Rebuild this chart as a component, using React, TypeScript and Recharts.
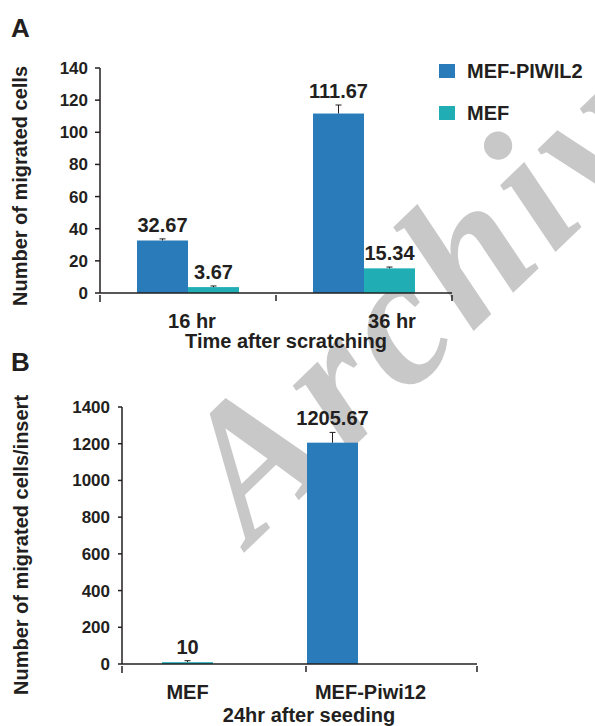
import React from "react";
import { BarChart, Bar, XAxis, YAxis, Cell, Legend } from "recharts";

const FONT = '"Liberation Sans", Arial, Helvetica, sans-serif';
const INK = "#231f20";
const BLUE = "#2a7bb9";
const TEAL = "#20aeb4";

// Panel A: scratch (wound healing) assay
const scratchSeries = ["MEF-PIWIL2", "MEF"];
const scratchTimes = ["16 hr", "36 hr"];
const piwil2Counts = [32.67, 111.67];
const piwil2Errors = [1.0, 5.3];
const mefCounts = [3.67, 15.34];
const mefErrors = [0.7, 0.8];
const scratchTicks = [0, 20, 40, 60, 80, 100, 120, 140];

// Panel B: transwell insert
const insertGroups = ["MEF", "MEF-Piwi12"];
const insertCounts = [10, 1205.67];
const insertErrors = [8, 56];
const insertTicks = [0, 200, 400, 600, 800, 1000, 1200, 1400];
const insertColors = [TEAL, BLUE];

const scratchData = scratchTimes.map((time, i) => ({
  time,
  piwil2: piwil2Counts[i],
  piwil2Err: piwil2Errors[i],
  mef: mefCounts[i],
  mefErr: mefErrors[i],
}));

const insertData = insertGroups.map((group, i) => ({
  group,
  cells: insertCounts[i],
  err: insertErrors[i],
}));

// plot frames (px inside each chart svg)
const A = { w: 595, h: 360, left: 100, right: 452, top: 68, bottom: 293 };
const B = { w: 595, h: 366, left: 122, right: 477, top: 47, bottom: 304 };
const BAR = 51;

const bold = { fontFamily: FONT, fontWeight: 700, fill: INK } as const;

// bar rect + one-sided error bar + value label on top
const barWithError = (valueKey: string, errKey: string) => (props: any) => {
  const { x, y, width, height, fill, payload } = props;
  const v = payload[valueKey];
  const err = payload[errKey] ?? 0;
  const k = v ? height / v : 0;
  const capY = y - err * k;
  const cx = x + width / 2;
  return (
    <g>
      <rect x={x} y={y} width={width} height={height} fill={fill} />
      <line x1={cx} x2={cx} y1={y} y2={capY} stroke={INK} strokeWidth={1} />
      <line x1={cx - 3} x2={cx + 3} y1={capY} y2={capY} stroke={INK} strokeWidth={1} />
      <text x={cx} y={capY - 7} textAnchor="middle" fontSize={20} {...bold}>
        {v}
      </text>
    </g>
  );
};

// Excel-style category axis: marks between categories, labels under them
const categoryTick =
  (left: number, right: number, divider: (x: number) => number, nudge: number[], count: number) =>
  (props: any) => {
    const { x, y, payload, index } = props;
    return (
      <g>
        {index === 0 && <line x1={left} x2={left} y1={y} y2={y + 7} stroke={INK} strokeWidth={1.5} />}
        {index === 0 && (
          <line x1={divider(x)} x2={divider(x)} y1={y} y2={y + 6} stroke={INK} strokeWidth={1.5} />
        )}
        {index === count - 1 && <line x1={right} x2={right} y1={y} y2={y + 6} stroke={INK} strokeWidth={1.5} />}
        <text x={x + (nudge[index] ?? 0)} y={y + 33} textAnchor="middle" fontSize={20} {...bold}>
          {payload.value}
        </text>
      </g>
    );
  };

const yTitle = (text: string, x: number, cy: number) => () =>
  (
    <text transform={`translate(${x} ${cy}) rotate(-90)`} textAnchor="middle" fontSize={20} {...bold}>
      {text}
    </text>
  );

const xTitle = (text: string, cx: number, y: number) => () =>
  (
    <text x={cx} y={y} textAnchor="middle" fontSize={20} {...bold}>
      {text}
    </text>
  );

const renderLegend = (props: any) => {
  const items = [...(props.payload || [])].sort(
    (a: any, b: any) => scratchSeries.indexOf(a.value) - scratchSeries.indexOf(b.value)
  );
  return (
    <div>
      {items.map((it: any) => (
        <div key={it.value} style={{ display: "flex", alignItems: "center", height: 22, marginBottom: 20 }}>
          <span style={{ width: 16, height: 14, background: it.color, marginRight: 12 }} />
          <span style={{ fontFamily: FONT, fontWeight: 700, fontSize: 20, color: INK, lineHeight: "22px" }}>
            {it.value}
          </span>
        </div>
      ))}
    </div>
  );
};

const panelLetter = (top: number) => ({
  position: "absolute" as const,
  left: 11,
  top,
  fontFamily: FONT,
  fontWeight: 700,
  fontSize: 26,
  lineHeight: "26px",
  color: INK,
});

const yTickStyle = { fill: INK, fontSize: 17, fontWeight: 700, fontFamily: FONT };

export default function App() {
  const bandA = (A.right - A.left) / 2;
  const bandB = (B.right - B.left + 7 - 72) / 2;
  return (
    <div
      style={{
        position: "absolute",
        left: 0,
        top: 0,
        width: 595,
        height: 726,
        overflow: "hidden",
        background: "#fff",
      }}
    >
      {/* grey "Archive" watermark sits behind both panels */}
      <svg width={595} height={726} style={{ position: "absolute", left: 0, top: 0 }}>
        <text
          transform="translate(251 546) rotate(-44)"
          fontFamily='"Liberation Serif", "DejaVu Serif", serif'
          fontStyle="italic"
          fontWeight={700}
          fontSize={188}
          letterSpacing={8}
          fill="#c8c8c8"
        >
          Archive
        </text>
      </svg>

      <div style={panelLetter(15)}>A</div>
      <div style={panelLetter(349)}>B</div>

      <div style={{ position: "absolute", left: 0, top: 0 }}>
        <BarChart
          width={A.w}
          height={A.h}
          data={scratchData}
          margin={{ top: A.top, right: A.w - A.right, bottom: A.h - A.bottom - 30, left: A.left - 60 }}
          barGap={0}
          barSize={BAR}
        >
          <XAxis
            dataKey="time"
            interval={0}
            tickLine={false}
            tickSize={0}
            axisLine={{ stroke: INK, strokeWidth: 1.5 }}
            tick={categoryTick(A.left, A.right, (x) => x + bandA / 2, [4, 28], scratchTimes.length)}
            label={{ content: xTitle("Time after scratching", 286, A.bottom + 55) }}
          />
          <YAxis
            width={60}
            domain={[0, 140]}
            ticks={scratchTicks}
            interval={0}
            tickSize={5}
            tickMargin={7}
            tick={yTickStyle}
            axisLine={{ stroke: INK, strokeWidth: 1.5 }}
            tickLine={{ stroke: INK, strokeWidth: 1.5 }}
            label={{ content: yTitle("Number of migrated cells", 27, 186) }}
          />
          <Legend
            layout="vertical"
            align="center"
            verticalAlign="middle"
            content={renderLegend}
            wrapperStyle={{ left: 439, top: 60, width: 160, height: 90 }}
          />
          <Bar
            dataKey="piwil2"
            name={scratchSeries[0]}
            fill={BLUE}
            isAnimationActive={false}
            shape={barWithError("piwil2", "piwil2Err")}
          />
          <Bar
            dataKey="mef"
            name={scratchSeries[1]}
            fill={TEAL}
            isAnimationActive={false}
            shape={barWithError("mef", "mefErr")}
          />
        </BarChart>
      </div>

      <div style={{ position: "absolute", left: 0, top: 360 }}>
        <BarChart
          width={B.w}
          height={B.h}
          data={insertData}
          margin={{ top: B.top, right: B.w - B.right, bottom: B.h - B.bottom - 30, left: B.left - 60 }}
          barSize={BAR}
        >
          <XAxis
            dataKey="group"
            interval={0}
            padding={{ left: -7, right: 72 }}
            tickLine={false}
            tickSize={0}
            axisLine={{ stroke: INK, strokeWidth: 1.5 }}
            tick={categoryTick(B.left, B.right, (x) => x + bandB - BAR / 2 - 1, [0, 38], insertGroups.length)}
            label={{ content: xTitle("24hr after seeding", 309, B.bottom + 58) }}
          />
          <YAxis
            width={60}
            domain={[0, 1400]}
            ticks={insertTicks}
            interval={0}
            tickSize={4}
            tickMargin={8}
            tick={yTickStyle}
            axisLine={{ stroke: INK, strokeWidth: 1.5 }}
            tickLine={{ stroke: INK, strokeWidth: 1.5 }}
            label={{ content: yTitle("Number of migrated cells/insert", 28, 185) }}
          />
          <Bar dataKey="cells" isAnimationActive={false} shape={barWithError("cells", "err")}>
            {insertData.map((d, i) => (
              <Cell key={d.group} fill={insertColors[i]} />
            ))}
          </Bar>
        </BarChart>
      </div>
    </div>
  );
}
